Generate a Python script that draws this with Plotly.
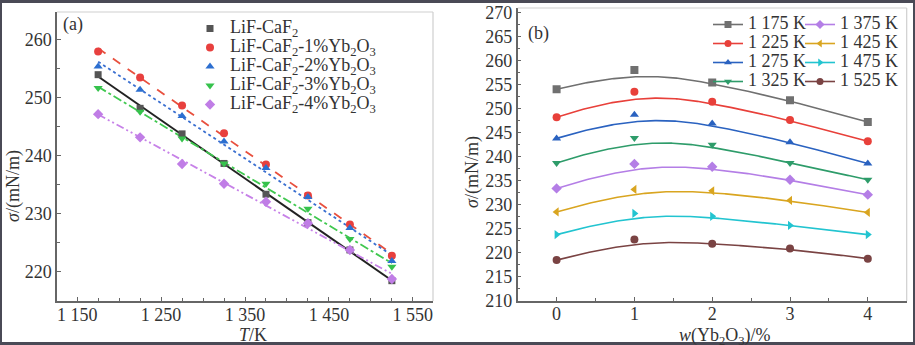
import numpy as np
import plotly.graph_objects as go

# ---------------- data ----------------
temperatures = [1175, 1225, 1275, 1325, 1375, 1425, 1475, 1525]
yb_content = [0, 1, 2, 3, 4]
temp_labels = ["1 175 K", "1 225 K", "1 275 K", "1 325 K",
               "1 375 K", "1 425 K", "1 475 K", "1 525 K"]

sigma_1175 = [254.0, 258.0, 255.4, 251.7, 247.2]
sigma_1225 = [248.2, 253.5, 251.4, 247.6, 243.2]
sigma_1275 = [243.8, 248.7, 246.9, 243.0, 238.6]
sigma_1325 = [238.7, 243.9, 242.5, 238.7, 235.2]
sigma_1375 = [233.4, 238.5, 237.9, 235.2, 232.1]
sigma_1425 = [228.5, 233.2, 232.9, 230.9, 228.4]
sigma_1475 = [223.8, 228.2, 227.6, 225.7, 223.8]
sigma_1525 = [218.5, 222.8, 221.9, 220.9, 218.8]

comp_labels = ["LiF-CaF<sub>2</sub>",
               "LiF-CaF<sub>2</sub>-1%Yb<sub>2</sub>O<sub>3</sub>",
               "LiF-CaF<sub>2</sub>-2%Yb<sub>2</sub>O<sub>3</sub>",
               "LiF-CaF<sub>2</sub>-3%Yb<sub>2</sub>O<sub>3</sub>",
               "LiF-CaF<sub>2</sub>-4%Yb<sub>2</sub>O<sub>3</sub>"]

x_ticks_a = [1150, 1250, 1350, 1450, 1550]
x_ticktext_a = ["1 150", "1 250", "1 350", "1 450", "1 550"]
y_ticks_a = [220, 230, 240, 250, 260]
x_ticks_b = [0, 1, 2, 3, 4]
y_ticks_b = list(range(210, 271, 5))

rows = [sigma_1175, sigma_1225, sigma_1275, sigma_1325,
        sigma_1375, sigma_1425, sigma_1475, sigma_1525]
columns = [list(c) for c in zip(*rows)]  # per composition, over temperature

# ---------------- styles ----------------
FONT = "Liberation Serif"
W, H = 915, 345
comp_colors = ["#555555", "#e8403e", "#2c6fd0", "#36c24c", "#c07de6"]
comp_line_colors = ["#222222", "#e8503e", "#3a6fd0", "#40c850", "#c782e8"]
comp_symbols = ["square", "circle", "triangle-up", "triangle-down", "diamond"]
comp_sizes = [7, 8, 8, 8, 8]
comp_dash = ["solid", "dash", "dot", "dashdot", "8px,3px,2px,3px,2px,3px"]
temp_colors = ["#707070", "#e8403a", "#2a62c0", "#2e9c6a",
               "#b47ee6", "#d9a520", "#22c4d0", "#7a4343"]
temp_symbols = ["square", "circle", "triangle-up", "triangle-down",
                "diamond", "triangle-left", "triangle-right", "circle"]


def px_x(p):
    return p / W


def px_y(p):
    return 1 - p / H


def bspline(cx, cy, deg=3, n=200):
    m = len(cx)
    inner = list(np.linspace(0, 1, m - deg + 1)[1:-1])
    knots = [0.0] * (deg + 1) + inner + [1.0] * (deg + 1)

    def basis(i, k, t):
        if k == 0:
            if knots[i] <= t < knots[i + 1]:
                return 1.0
            if t == 1.0 and knots[i] < knots[i + 1] == 1.0:
                return 1.0
            return 0.0
        a = 0.0
        d1 = knots[i + k] - knots[i]
        if d1 > 0:
            a = (t - knots[i]) / d1 * basis(i, k - 1, t)
        b = 0.0
        d2 = knots[i + k + 1] - knots[i + 1]
        if d2 > 0:
            b = (knots[i + k + 1] - t) / d2 * basis(i + 1, k - 1, t)
        return a + b

    ts = np.linspace(0, 1, n)
    xs, ys = [], []
    for t in ts:
        bs = [basis(i, deg, t) for i in range(m)]
        xs.append(sum(b * v for b, v in zip(bs, cx)))
        ys.append(sum(b * v for b, v in zip(bs, cy)))
    return xs, ys


fig = go.Figure()

# ---------------- panel (a) ----------------
for i, col in enumerate(columns):
    k, b = np.polyfit(temperatures, col, 1)
    xs = [temperatures[0], temperatures[-1]]
    fig.add_trace(go.Scatter(
        x=xs, y=[k * v + b for v in xs], mode="lines",
        line=dict(color=comp_line_colors[i], width=2 if i == 0 else 1.8,
                  dash=comp_dash[i]),
        showlegend=False, hoverinfo="skip", xaxis="x", yaxis="y"))
for i, col in enumerate(columns):
    fig.add_trace(go.Scatter(
        x=temperatures, y=col, mode="markers",
        marker=dict(symbol=comp_symbols[i], color=comp_colors[i], size=comp_sizes[i]),
        name='<span style="font-size:18px">%s</span>' % comp_labels[i],
        legend="legend", xaxis="x", yaxis="y"))

# ---------------- panel (b) ----------------
for j, row in enumerate(rows):
    cxs, cys = bspline(yb_content, row)
    fig.add_trace(go.Scatter(
        x=cxs, y=cys, mode="lines",
        line=dict(color=temp_colors[j], width=1.6),
        showlegend=False, hoverinfo="skip", xaxis="x2", yaxis="y2"))
    fig.add_trace(go.Scatter(
        x=yb_content, y=row, mode="markers",
        marker=dict(symbol=temp_symbols[j], color=temp_colors[j], size=8),
        showlegend=False, xaxis="x2", yaxis="y2"))
    fig.add_trace(go.Scatter(
        x=[None], y=[None], mode="lines+markers",
        line=dict(color=temp_colors[j], width=1.6),
        marker=dict(symbol=temp_symbols[j], color=temp_colors[j], size=7),
        name='<span style="font-size:18px">%s</span>' % temp_labels[j],
        legend="legend2" if j < 4 else "legend3",
        xaxis="x2", yaxis="y2"))

axis_common = dict(
    showline=True, linecolor="#666666", linewidth=1.5,
    ticks="inside", ticklen=4, tickcolor="#666666", tickwidth=1.2,
    showgrid=False, zeroline=False, automargin=False,
    tickfont=dict(family=FONT, size=18, color="#333333"),
)

fig.update_layout(
    width=W, height=H,
    margin=dict(l=0, r=0, t=0, b=0, pad=0, autoexpand=False),
    paper_bgcolor="white", plot_bgcolor="white",
    font=dict(family=FONT, color="#333333"),
    xaxis=dict(domain=[px_x(57), px_x(433)], range=[1126, 1574],
               tickmode="array", tickvals=x_ticks_a, ticktext=x_ticktext_a,
               ticklabelstandoff=-3,
               minor=dict(tickvals=list(range(1150, 1551, 25)), ticks="inside",
                          ticklen=3, tickcolor="#666666"),
               anchor="y", **axis_common),
    yaxis=dict(domain=[px_y(301), px_y(12)], range=[215, 264.8],
               tickmode="array", tickvals=y_ticks_a,
               minor=dict(tickvals=list(range(215, 265, 5)), ticks="inside",
                          ticklen=3, tickcolor="#666666"),
               anchor="x", **axis_common),
    xaxis2=dict(domain=[px_x(517.7), px_x(906.7)], range=[-0.5, 4.5],
                tickmode="array", tickvals=x_ticks_b,
                ticklabelstandoff=-4,
                minor=dict(tickvals=[-0.5, 0.5, 1.5, 2.5, 3.5, 4.5], ticks="inside",
                           ticklen=3, tickcolor="#666666"),
                anchor="y2", **axis_common),
    yaxis2=dict(domain=[px_y(301), px_y(8)], range=[210, 270.9],
                tickmode="array", tickvals=y_ticks_b,
                minor=dict(tickvals=[212.5 + 5 * k for k in range(12)], ticks="inside",
                           ticklen=3, tickcolor="#666666"),
                anchor="x2", **axis_common),
    legend=dict(x=px_x(190), y=px_y(14), xanchor="left", yanchor="top",
                bgcolor="rgba(0,0,0,0)", font=dict(family=FONT, size=11, color="#333333"),
                tracegroupgap=0, itemwidth=30),
    legend2=dict(x=px_x(708), y=px_y(10), xanchor="left", yanchor="top",
                 bgcolor="rgba(0,0,0,0)", font=dict(family=FONT, size=11, color="#333333"),
                 tracegroupgap=0, itemwidth=30),
    legend3=dict(x=px_x(800), y=px_y(10), xanchor="left", yanchor="top",
                 bgcolor="rgba(0,0,0,0)", font=dict(family=FONT, size=11, color="#333333"),
                 tracegroupgap=0, itemwidth=30),
    showlegend=True,
)

light = "#cfcfcf"
shapes = [
    dict(type="line", xref="x domain", yref="y domain", x0=0, x1=1, y0=1, y1=1,
         line=dict(color=light, width=1.2)),
    dict(type="line", xref="x domain", yref="y domain", x0=1, x1=1, y0=0, y1=1,
         line=dict(color=light, width=1.2)),
    dict(type="line", xref="x2 domain", yref="y2 domain", x0=0, x1=1, y0=1, y1=1,
         line=dict(color=light, width=1.2)),
    dict(type="line", xref="x2 domain", yref="y2 domain", x0=1, x1=1, y0=0, y1=1,
         line=dict(color=light, width=1.2)),
]
frame = "#4a4a56"
for (x0, x1, y0, y1) in [(0, 1, px_y(3), 1), (0, 1, 0, px_y(342)),
                         (0, px_x(2), 0, 1), (px_x(913), 1, 0, 1)]:
    shapes.append(dict(type="rect", xref="paper", yref="paper",
                       x0=x0, x1=x1, y0=y0, y1=y1,
                       fillcolor=frame, line=dict(width=0)))
fig.update_layout(shapes=shapes)

ann_font = dict(family=FONT, size=18, color="#333333")


def ann(text, x, y, angle=0):
    return dict(text=text, x=px_x(x), y=px_y(y), xref="paper", yref="paper",
                xanchor="center", yanchor="middle", showarrow=False,
                textangle=angle, font=ann_font)


fig.update_layout(annotations=[
    ann("(a)", 73, 25),
    ann("(b)", 538, 33),
    ann("<i>σ</i>/(mN/m)", 13, 186, -90),
    ann("<i>σ</i>/(mN/m)", 472, 172, -90),
    ann("<i>T</i>/K", 253, 335),
    ann("<i>w</i>(Yb<sub>2</sub>O<sub>3</sub>)/%", 725, 336),
])

fig.write_html("out.html")
